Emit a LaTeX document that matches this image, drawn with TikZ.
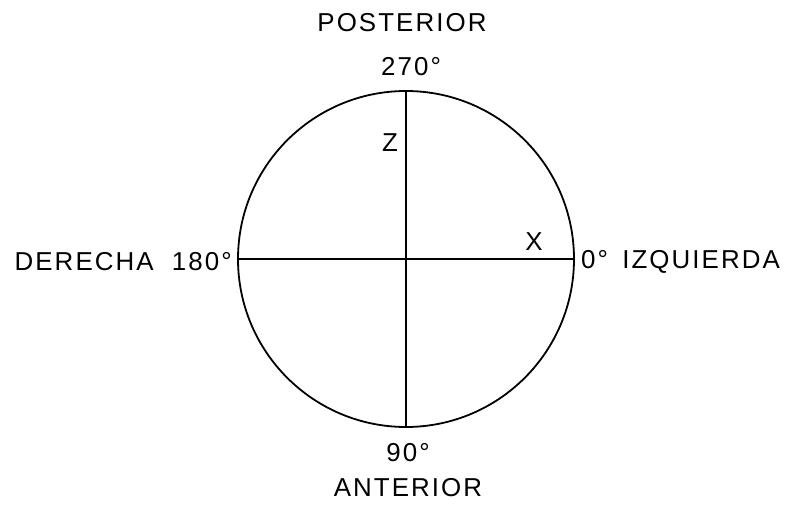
\documentclass[tikz,border=0pt]{standalone}
\usepackage{fontspec}
\setmainfont{Liberation Sans}[LetterSpace=8]
\begin{document}
\begin{tikzpicture}[x=1bp,y=-1bp,
  lbl/.style={font=\fontsize{26}{28}\selectfont, inner sep=0pt},
  ln/.style={line width=1.8bp, black}]
\useasboundingbox (0,0) rectangle (788,508);
\coordinate (c) at (406,259);
\draw[ln] (c) circle[radius=168];
\coordinate (top) at (406,91);
\coordinate (bot) at (406,427);
\coordinate (lft) at (238,259);
\coordinate (rgt) at (574,259);
\draw[ln] (top) -- (bot);
\draw[ln] (lft) -- (rgt);
\node[lbl] (post) at (402,23) {POSTERIOR};
\node[lbl] (d270) at (411,67) {270°};
\node[lbl] (z) at (390,143) {Z};
\node[lbl] (x) at (534,242) {X};
\node[lbl, anchor=east] (der) at (232,262) {DERECHA\hspace{9bp} 180°};
\node[lbl, anchor=west] (izq) at (581,262) {0°\hspace{5bp} IZQUIERDA};
\node[lbl] (d90) at (408,453) {90°};
\node[lbl] (ant) at (408,488) {ANTERIOR};
\end{tikzpicture}
\end{document}
